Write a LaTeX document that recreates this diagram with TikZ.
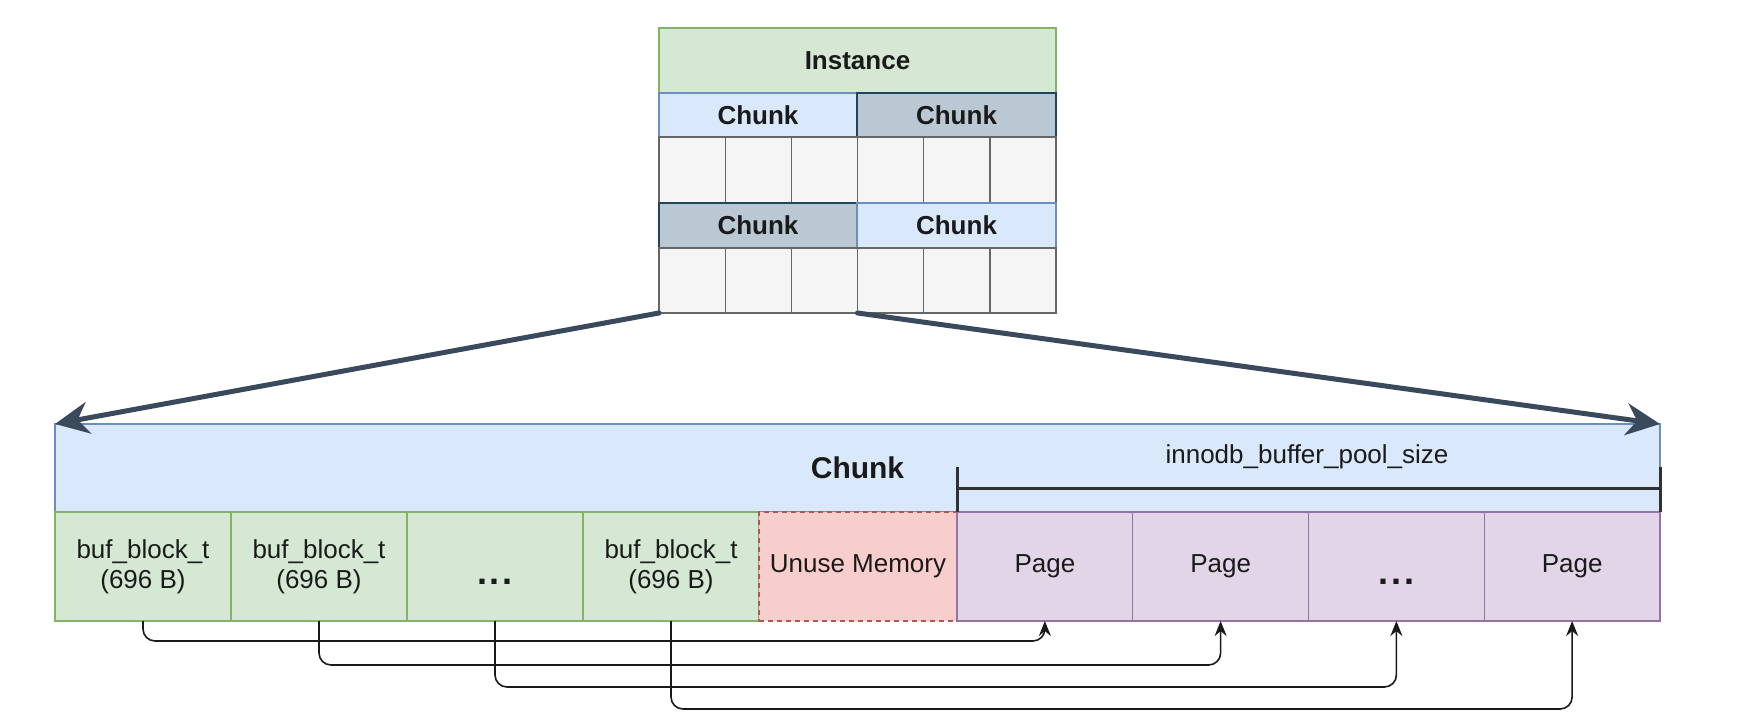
\documentclass[tikz,border=0pt]{standalone}
\usepackage{fontspec}
\setmainfont{Liberation Sans}
\usetikzlibrary{arrows.meta}
\definecolor{gfill}{HTML}{D5E8D4}
\definecolor{gline}{HTML}{82B366}
\definecolor{bfill}{HTML}{DAE8FC}
\definecolor{bline}{HTML}{6C8EBF}
\definecolor{dfill}{HTML}{BAC8D3}
\definecolor{dline}{HTML}{23445D}
\definecolor{cfill}{HTML}{F5F5F5}
\definecolor{cline}{HTML}{666666}
\definecolor{rfill}{HTML}{F8CECC}
\definecolor{rline}{HTML}{B85450}
\definecolor{pfill}{HTML}{E1D5E7}
\definecolor{pline}{HTML}{9673A6}
\definecolor{arrowc}{HTML}{3A4A5C}
\definecolor{txt}{HTML}{1A1A1A}
\newcommand{\mydots}{\vphantom{Pg}\smash{\raisebox{-9pt}{.\hspace{3pt}.\hspace{3pt}.}}}
\begin{document}
\begin{tikzpicture}[x=1pt,y=-1pt,
  box/.style={draw, inner sep=0pt, outer sep=0pt, anchor=north west, line width=1.3pt,
    align=center, text=txt, font=\fontsize{26}{30}\selectfont},
  greenbox/.style={box, fill=gfill, draw=gline},
  lightchunk/.style={box, fill=bfill, draw=bline, font=\fontsize{26}{30}\selectfont\bfseries},
  darkchunk/.style={box, fill=dfill, draw=dline, font=\fontsize{26}{30}\selectfont\bfseries},
  cellbox/.style={box, fill=cfill, draw=cline},
  unusebox/.style={box, fill=rfill, draw=rline, dashed, dash pattern=on 5pt off 4pt},
  pagebox/.style={box, fill=pfill, draw=pline},
  dotsfont/.style={font=\fontsize{36}{36}\selectfont\bfseries},
  bigarrow/.style={draw=arrowc, line width=5pt, line cap=round,
    -{Stealth[length=34pt,width=32pt,inset=11pt]}},
  conn/.style={draw=txt, line width=1.6pt, rounded corners=12pt,
    -{Stealth[length=15pt,width=12pt]}},
  bracket/.style={draw=txt!90, line width=3pt}
]
\useasboundingbox (0,0) rectangle (1740,728);

% ---- Instance block ----
\node[greenbox, minimum width=397, minimum height=65, font=\fontsize{26}{30}\selectfont\bfseries] (inst) at (659,28) {Instance};
\node[lightchunk, minimum width=198, minimum height=44] (ch1) at (659,93) {Chunk};
\node[darkchunk, minimum width=199, minimum height=44] (ch2) at (857,93) {Chunk};
\foreach \i in {1,...,6} {
  \node[cellbox, minimum width=66.17, minimum height=66] (ra\i) at ({659+(\i-1)*66.17},137) {};
}
\node[darkchunk, minimum width=198, minimum height=45] (ch3) at (659,203) {Chunk};
\node[lightchunk, minimum width=199, minimum height=45] (ch4) at (857,203) {Chunk};
\foreach \i in {1,...,6} {
  \node[cellbox, minimum width=66.17, minimum height=65] (rb\i) at ({659+(\i-1)*66.17},248) {};
}

% ---- Big chunk ----
\node[box, fill=bfill, draw=bline, minimum width=1605, minimum height=88,
  font=\fontsize{30}{34}\selectfont\bfseries] (bigchunk) at (55,424) {Chunk};
\node[font=\fontsize{26}{30}\selectfont, text=txt] (poollbl) at (1307,457) {innodb\_buffer\_pool\_size};

\node[greenbox, minimum width=176, minimum height=109] (b1) at (55,512) {buf\_block\_t\\(696 B)};
\node[greenbox, minimum width=176, minimum height=109] (b2) at (231,512) {buf\_block\_t\\(696 B)};
\node[greenbox, dotsfont, minimum width=176, minimum height=109] (bd) at (407,512) {\mydots};
\node[greenbox, minimum width=176, minimum height=109] (b4) at (583,512) {buf\_block\_t\\(696 B)};
\node[unusebox, minimum width=198, minimum height=109] (um) at (759,512) {Unuse Memory};
\node[pagebox, minimum width=175.75, minimum height=109] (p1) at (957,512) {Page};
\node[pagebox, minimum width=175.75, minimum height=109] (p2) at (1132.75,512) {Page};
\node[pagebox, dotsfont, minimum width=175.75, minimum height=109] (pd) at (1308.5,512) {\mydots};
\node[pagebox, minimum width=175.75, minimum height=109] (p4) at (1484.25,512) {Page};

% ---- bracket ----
\coordinate (brL) at (957,488);
\coordinate (brR) at (1660,488);
\draw[bracket] (brL) -- (brR);
\draw[bracket] (p1.north west |- 0,467) -- (p1.north west);
\draw[bracket] (p4.north east |- 0,467) -- (p4.north east);

% ---- big arrows ----
\draw[bigarrow] (rb1.south west) -- (bigchunk.north west);
\draw[bigarrow] (rb4.south west) -- (bigchunk.north east);

% ---- connectors ----
\foreach \b/\p/\y in {b1/p1/641, b2/p2/665, bd/pd/687, b4/p4/709} {
  \draw[conn] (\b.south) -- (\b.south |- 0,\y) -- (\p.south |- 0,\y) -- (\p.south);
}
\end{tikzpicture}
\end{document}
